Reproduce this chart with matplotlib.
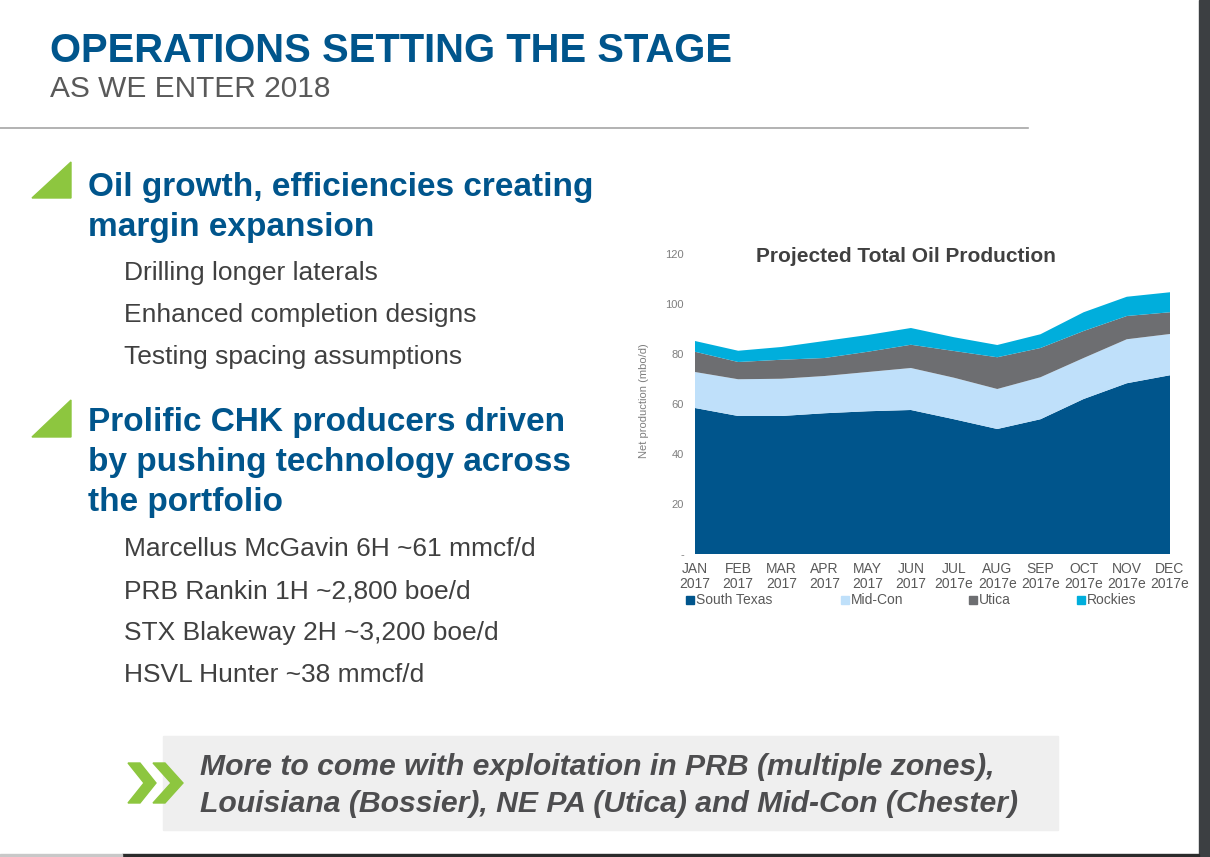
import matplotlib
matplotlib.use("Agg")
import matplotlib.pyplot as plt
from matplotlib.patches import Rectangle, Polygon

plt.rcParams['font.family'] = ['Liberation Sans', 'DejaVu Sans']

# chart data (mbo/d)
months = ["JAN\n2017", "FEB\n2017", "MAR\n2017", "APR\n2017", "MAY\n2017", "JUN\n2017",
          "JUL\n2017e", "AUG\n2017e", "SEP\n2017e", "OCT\n2017e", "NOV\n2017e", "DEC\n2017e"]
south_texas = [58.4, 55.2, 55.2, 56.3, 57.1, 57.6, 53.9, 50.0, 53.9, 62.0, 68.3, 71.5]
mid_con = [14.4, 14.7, 14.9, 14.9, 15.7, 16.8, 16.6, 16.0, 16.8, 16.4, 17.6, 16.5]
utica = [8.1, 6.9, 7.6, 7.2, 8.1, 9.3, 10.7, 12.7, 11.7, 10.8, 9.3, 8.7]
rockies = [4.3, 4.5, 5.1, 6.8, 6.7, 6.7, 5.5, 4.9, 5.5, 7.5, 7.7, 8.0]
series_names = ["South Texas", "Mid-Con", "Utica", "Rockies"]
series_colors = ["#00558C", "#BFE0FA", "#6D6E71", "#00AEDC"]
y_ticks = [0, 20, 40, 60, 80, 100, 120]
y_tick_labels = ["-", "20", "40", "60", "80", "100", "120"]

sub_items_1 = ["Drilling longer laterals", "Enhanced completion designs", "Testing spacing assumptions"]
sub_items_2 = ["Marcellus McGavin 6H ~61 mmcf/d", "PRB Rankin 1H ~2,800 boe/d",
               "STX Blakeway 2H ~3,200 boe/d", "HSVL Hunter ~38 mmcf/d"]

W, H = 1210, 857
fig = plt.figure(figsize=(W / 100, H / 100), dpi=100)
fig.patch.set_facecolor("white")


def fx(x):
    return x / W


def fy(y):
    return 1 - y / H


blue = "#00558C"
green = "#8DC63F"
dark = "#404040"

# header
fig.text(fx(50), fy(62), "OPERATIONS SETTING THE STAGE", fontsize=28.8, fontweight="bold",
         color=blue, va="baseline")
fig.text(fx(50), fy(97), "AS WE ENTER 2018", fontsize=21.5, color="#595959", va="baseline")
fig.add_artist(plt.Line2D([0, fx(1028)], [fy(128), fy(128)], color="#A6A6A6", lw=1.2))

# bullet triangles
for top, bot in [(162, 198), (400, 437)]:
    fig.add_artist(Polygon([(fx(32), fy(bot)), (fx(71), fy(top)), (fx(71), fy(bot))],
                           closed=True, color=green, transform=fig.transFigure))

for txt, base in [("Oil growth, efficiencies creating", 196), ("margin expansion", 236),
                  ("Prolific CHK producers driven", 431), ("by pushing technology across", 471),
                  ("the portfolio", 511)]:
    fig.text(fx(88), fy(base), txt, fontsize=24, fontweight="bold", color=blue, va="baseline")

for i, txt in enumerate(sub_items_1):
    fig.text(fx(124), fy(280 + 42 * i), txt, fontsize=19, color=dark, va="baseline")
for i, txt in enumerate(sub_items_2):
    fig.text(fx(124), fy(556 + 42 * i), txt, fontsize=19, color=dark, va="baseline")

# bottom call-out
fig.add_artist(Rectangle((fx(163), fy(830)), fx(1058 - 163), (830 - 736) / H,
                         color="#EFEFEF", transform=fig.transFigure, zorder=0))
for x0, w in [(128, 28), (153, 30)]:
    t = 12
    pts = [(x0, 763), (x0 + t, 763), (x0 + w, 783), (x0 + t, 803), (x0, 803), (x0 + w - t, 783)]
    fig.add_artist(Polygon([(fx(a), fy(b)) for a, b in pts], closed=True, color=green,
                           transform=fig.transFigure))
fig.text(fx(200), fy(775), "More to come with exploitation in PRB (multiple zones),",
         fontsize=21.7, fontweight="bold", fontstyle="italic", color="#4D4D4F", va="baseline")
fig.text(fx(200), fy(812), "Louisiana (Bossier), NE PA (Utica) and Mid-Con (Chester)",
         fontsize=21.7, fontweight="bold", fontstyle="italic", color="#4D4D4F", va="baseline")

# window edges
fig.add_artist(Rectangle((fx(1199), 0), fx(11), 1, color="#3C3F42", transform=fig.transFigure))
fig.add_artist(Rectangle((fx(122), 0), fx(1077), 3 / H, color="#2B2B2B", transform=fig.transFigure))
fig.add_artist(Rectangle((0, 0), fx(122), 3 / H, color="#C8C8C8", transform=fig.transFigure))

# chart
ax = fig.add_axes([fx(695), fy(554), fx(1170 - 695), (554 - 254) / H])
x = list(range(len(months)))
ax.stackplot(x, south_texas, mid_con, utica, rockies, colors=series_colors, lw=0)
ax.set_xlim(0, len(months) - 1)
ax.set_ylim(0, 120)
ax.set_xticks(x)
ax.set_xticklabels(months, fontsize=10, color="#595959", linespacing=1.1)
ax.set_yticks(y_ticks)
ax.set_yticklabels(y_tick_labels, fontsize=8, color="#7F7F7F")
ax.tick_params(axis="x", length=0, pad=6)
ax.tick_params(axis="y", length=0, pad=8)
for s in ax.spines.values():
    s.set_visible(False)
ax.set_ylabel("Net production (mbo/d)", fontsize=8, color="#7F7F7F")
ax.yaxis.set_label_coords(-0.097, 0.51)

fig.text(fx(906), fy(257), "Projected Total Oil Production", fontsize=15, fontweight="bold",
         color=dark, ha="center", va="center")

# legend
for name, col, lx in zip(series_names, series_colors, [686, 841, 969, 1077]):
    fig.add_artist(Rectangle((fx(lx), fy(604)), fx(8), 8 / H, color=col, transform=fig.transFigure))
    fig.text(fx(lx + 10), fy(600), name, fontsize=10, color="#595959", va="center")

fig.savefig("out.png", dpi=100, facecolor="white")
